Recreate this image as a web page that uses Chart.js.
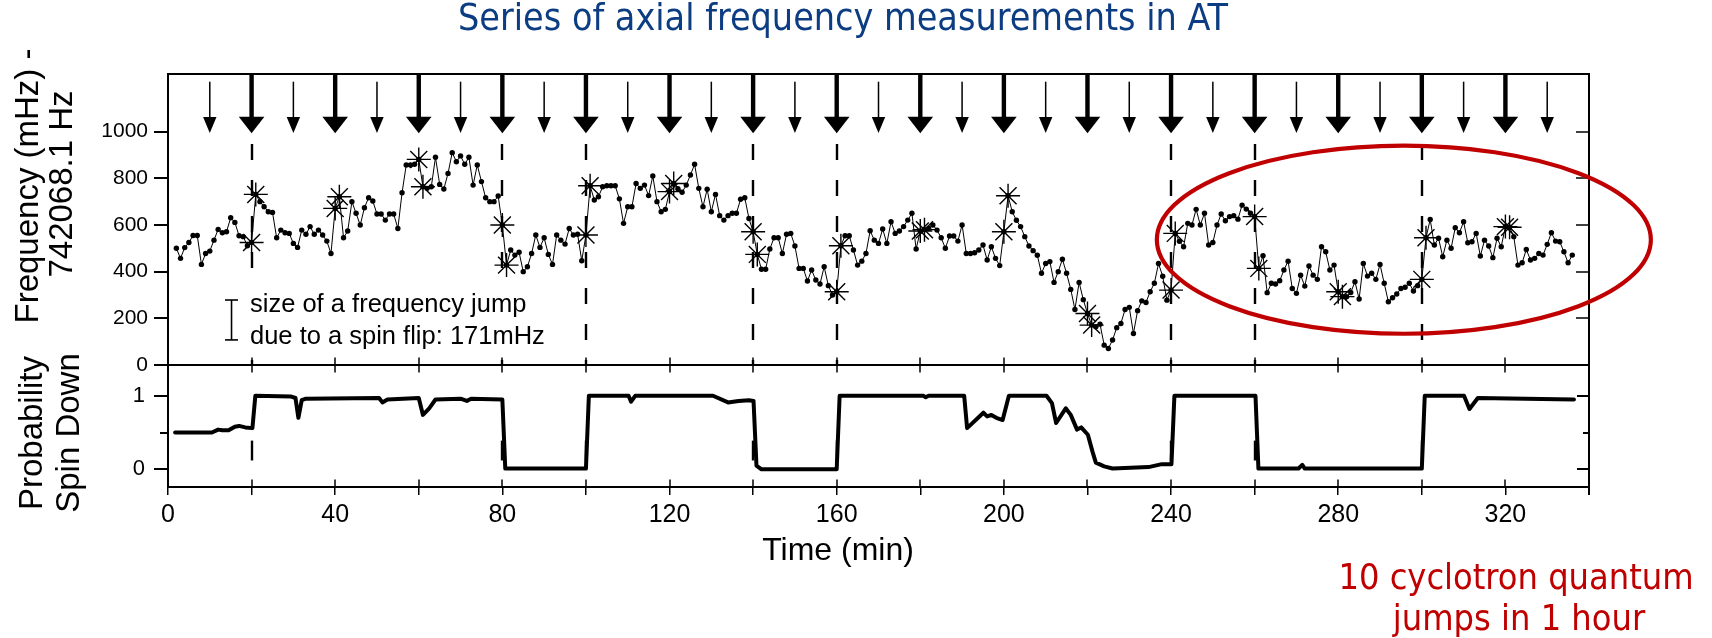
<!DOCTYPE html>
<html>
<head>
<meta charset="utf-8">
<title>Series of axial frequency measurements in AT</title>
<script src="https://cdn.jsdelivr.net/npm/chart.js@4.4.1/dist/chart.umd.min.js"></script>
<style>
  html, body { margin: 0; padding: 0; background: #ffffff; }
  #wrap { position: relative; width: 1712px; height: 638px; overflow: hidden; background: #ffffff; }
  #wrap canvas { position: absolute; left: 0; top: 0; }
</style>
</head>
<body>
<div id="wrap">
  <canvas id="freqCanvas" width="1712" height="638"></canvas>
  <canvas id="probCanvas" width="1712" height="638"></canvas>
</div>
<script>
// ---------------------------------------------------------------------------
// Data
// ---------------------------------------------------------------------------

// One axial frequency measurement per minute, starting at minute 2 (mHz offset from 742068.1 Hz)
const firstSampleMinute = 2;
const freqMilliHz = [
  500, 457, 503, 525, 555, 555, 431, 478, 488, 535,   // 2-11
  581, 567, 571, 631, 611, 554, 550, 511, 525, 731,   // 12-21
  700, 678, 657, 654, 545, 578, 567, 564, 521, 504,   // 22-31
  578, 560, 593, 560, 578, 557, 531, 478, 671, 721,   // 32-41
  545, 574, 700, 650, 600, 674, 717, 703, 647, 647,   // 42-51
  621, 647, 647, 585, 738, 857, 857, 860, 881, 764,   // 52-61
  757, 764, 890, 774, 754, 821, 910, 871, 896, 860,   // 62-71
  890, 771, 857, 786, 717, 700, 700, 724, 600, 428,   // 72-81
  493, 471, 483, 400, 421, 478, 557, 504, 545, 474,   // 82-91
  431, 557, 535, 518, 585, 557, 560, 447, 557, 768,   // 92-101
  707, 721, 764, 768, 768, 768, 712, 607, 678, 678,   // 102-111
  778, 757, 771, 726, 810, 700, 657, 667, 743, 778,   // 112-121
  755, 740, 771, 814, 860, 757, 678, 753, 657, 731,   // 122-131
  640, 621, 640, 650, 650, 710, 717, 628, 571, 474,   // 132-141
  410, 410, 497, 545, 545, 478, 560, 564, 510, 414,   // 142-151
  414, 360, 407, 364, 347, 421, 340, 300, 314, 511,   // 152-161
  554, 554, 493, 428, 445, 478, 575, 535, 521, 583,   // 162-171
  521, 614, 564, 574, 593, 621, 650, 497, 574, 580,   // 172-181
  585, 600, 578, 545, 500, 553, 553, 531, 600, 478,   // 182-191
  478, 481, 493, 514, 450, 507, 457, 426, 571, 725,   // 192-201
  657, 620, 593, 550, 510, 490, 470, 393, 435, 443,   // 202-211
  354, 400, 453, 393, 324, 238, 354, 280, 221, 171,   // 212-221
  164, 175,  85,  71, 107, 160, 178, 238, 247, 135,   // 222-231
  233, 275, 268, 314, 350, 435, 380, 278, 321, 564,   // 232-241
  530, 507, 607, 600, 667, 600, 650, 514, 525, 600,   // 242-251
  647, 618, 636, 640, 625, 685, 668, 650, 636, 414,   // 252-261
  468, 310, 350, 347, 361, 407, 445, 328, 307, 385,   // 262-271
  338, 424, 385, 367, 507, 485, 407, 428, 314, 293,   // 272-281
  293, 311, 357, 283, 435, 381, 393, 367, 431, 350,   // 282-291
  271, 288, 304, 328, 333, 350, 317, 340, 367, 545,   // 292-301
  624, 514, 543, 464, 535, 500, 588, 567, 614, 524,   // 302-311
  528, 564, 467, 535, 510, 460, 543, 507, 593, 590,   // 312-321
  550, 428, 438, 495, 450, 457, 478, 471, 517, 567,   // 322-331
  531, 528, 485, 438, 471                             // 332-336
];

// Measurements taken right before / after each spin-flip attempt (drawn as asterisks)
const flipMarkerMinutes = [20, 21, 40, 41, 60, 61, 80, 81, 100, 101, 120, 121, 140, 141, 160, 161,
                           180, 181, 200, 201, 220, 221, 240, 241, 260, 261, 280, 281, 300, 301, 320, 321];

// Cyclotron (thin) and spin-flip (thick) drive pulses
const thinArrowMinutes  = [10, 30, 50, 70, 90, 110, 130, 150, 170, 190, 210, 230, 250, 270, 290, 310, 330];
const thickArrowMinutes = [20, 40, 60, 80, 100, 120, 140, 160, 180, 200, 220, 240, 260, 280, 300, 320];

// Spin flips that actually happened (dashed markers)
const spinFlipMinutes = [20, 80, 100, 140, 160, 240, 260, 300];

// Probability of spin down, breakpoints of the analysed curve
const probMinutes = [
  1.7, 10.5, 12, 13, 14.5, 16, 17, 18.5, 20.2, 20.9,
  29.5, 30.5, 31.2, 32, 33, 50.5, 51.3, 52.5, 60, 61,
  62.5, 64, 70, 71.5, 72.5, 80.0, 80.7, 100.0, 100.7, 110.2,
  110.8, 111.8, 130.4, 134, 136.5, 139, 140.1, 140.8, 142, 160.0,
  160.7, 180.7, 181.3, 182, 190.5, 191.2, 195.1, 196, 197, 198.2,
  199.7, 201.2, 210.2, 211.5, 212.5, 214.8, 216, 217.5, 218.5, 220.1,
  221.2, 222, 224, 226, 234.6, 237.8, 240.1, 240.8, 260.2, 260.9,
  270.5, 271.4, 272, 300.0, 300.7, 310.1, 311.4, 313.4, 336.4
];
const probSpinDown = [
  0.50, 0.50, 0.54, 0.53, 0.53, 0.58, 0.59, 0.57, 0.56, 1.00,
  0.99, 0.97, 0.70, 0.94, 0.96, 0.97, 0.91, 0.95, 0.97, 0.74,
  0.83, 0.95, 0.96, 0.93, 0.96, 0.95, 0.01, 0.01, 1.00, 1.00,
  0.92, 1.00, 1.00, 0.91, 0.93, 0.94, 0.93, 0.05, 0.00, 0.00,
  1.00, 1.00, 0.98, 1.00, 1.00, 0.56, 0.77, 0.72, 0.74, 0.70,
  0.67, 1.00, 1.00, 0.90, 0.63, 0.83, 0.74, 0.54, 0.57, 0.47,
  0.24, 0.09, 0.04, 0.01, 0.03, 0.07, 0.07, 1.00, 1.00, 0.01,
  0.01, 0.06, 0.01, 0.01, 1.00, 1.00, 0.82, 0.97, 0.95
];

// Axis ticks
const freqTickValues = [0, 200, 400, 600, 800, 1000];
const probTickValues = [0, 0.5, 1];
const timeTickValues = [0, 20, 40, 60, 80, 100, 120, 140, 160, 180, 200, 220, 240, 260, 280, 300, 320, 340];

// Frequency jump caused by one spin flip (mHz)
const spinFlipJumpMilliHz = 171;

// ---------------------------------------------------------------------------
// Layout & style
// ---------------------------------------------------------------------------
const W = 1712, H = 638;
const PLOT_LEFT = 168, PLOT_RIGHT = 1589;
const TOP_PANEL_TOP = 74, PANEL_SPLIT = 365, BOTTOM_PANEL_BOTTOM = 487;
const X_AXIS_BOX = 60;

const FONT_SANS = '"Liberation Sans", Arial, Helvetica, sans-serif';
const FONT_SLIDE = '"DejaVu Sans Condensed", "DejaVu Sans", Verdana, sans-serif';
const TITLE_BLUE = '#0c3c82';
const NOTE_RED = '#c00000';
const INK = '#000000';

// Highlighted region (minutes / mHz)
const highlight = { minute: 295.7, milliHz: 537, halfMinutes: 59.1, halfMilliHz: 403 };

// ---------------------------------------------------------------------------
// Derived point lists
// ---------------------------------------------------------------------------
const freqPoints = freqMilliHz.map((v, i) => ({ x: firstSampleMinute + i, y: v }));
const starPoints = flipMarkerMinutes.map(m => ({ x: m, y: freqMilliHz[m - firstSampleMinute] }));
const probPoints = probMinutes.map((m, i) => ({ x: m, y: probSpinDown[i] }));

// ---------------------------------------------------------------------------
// Drawing helpers
// ---------------------------------------------------------------------------
function seg(ctx, x1, y1, x2, y2) {
  ctx.beginPath(); ctx.moveTo(x1, y1); ctx.lineTo(x2, y2); ctx.stroke();
}
function fitFontSize(ctx, text, family, targetWidth) {
  ctx.font = '100px ' + family;
  return 100 * targetWidth / ctx.measureText(text).width;
}
function drawArrow(ctx, px, yShaftTop, yHeadBase, yTip, shaftWidth, headHalfWidth) {
  ctx.fillRect(px - shaftWidth / 2, yShaftTop, shaftWidth, yHeadBase - yShaftTop + 1);
  ctx.beginPath();
  ctx.moveTo(px - headHalfWidth, yHeadBase);
  ctx.lineTo(px + headHalfWidth, yHeadBase);
  ctx.lineTo(px, yTip);
  ctx.closePath();
  ctx.fill();
}
function drawVerticalText(ctx, text, cx, cy) {
  ctx.save();
  ctx.translate(cx, cy);
  ctx.rotate(-Math.PI / 2);
  ctx.textAlign = 'center';
  ctx.textBaseline = 'middle';
  ctx.fillText(text, 0, 0);
  ctx.restore();
}

// ---------------------------------------------------------------------------
// Upper panel decorations: frame, pulses, flip markers, highlight, texts
// ---------------------------------------------------------------------------
const freqPanelDecor = {
  id: 'freqPanelDecor',
  beforeDatasetsDraw(chart) {
    const { ctx, scales: { x, y } } = chart;
    ctx.save();
    ctx.strokeStyle = INK;
    ctx.lineWidth = 2.4;
    ctx.setLineDash([16, 20]);
    const yTop = y.getPixelForValue(947), yBot = y.getPixelForValue(0);
    spinFlipMinutes.forEach(m => {
      const px = Math.round(x.getPixelForValue(m));
      seg(ctx, px, yTop, px, yBot);
    });
    ctx.restore();

    // the jump-size caption sits on an opaque label box
    ctx.save();
    ctx.fillStyle = '#ffffff';
    ctx.fillRect(246, 288, 306, 64);
    ctx.restore();
  },
  afterDraw(chart) {
    const { ctx, chartArea: { left: L, right: R, top: T, bottom: B }, scales: { x, y } } = chart;
    ctx.save();

    // frame
    ctx.strokeStyle = INK;
    ctx.lineWidth = 2;
    seg(ctx, L - 1, T, R + 1, T);
    seg(ctx, R, T, R, B);
    seg(ctx, L, B, R, B);

    // time ticks on the top border and on the panel divider
    ctx.lineWidth = 1.5;
    timeTickValues.forEach(m => {
      const px = Math.round(x.getPixelForValue(m));
      seg(ctx, px, T, px, T + 8);
      seg(ctx, px, B - 7.5, px, B + 7.5);
    });
    // inward ticks on the right axis
    freqTickValues.filter(v => v > 0).forEach(v => {
      const py = Math.round(y.getPixelForValue(v));
      seg(ctx, R - 13, py, R, py);
    });

    // drive pulses
    ctx.fillStyle = INK;
    thinArrowMinutes.forEach(m => {
      drawArrow(ctx, x.getPixelForValue(m), y.getPixelForValue(1214), y.getPixelForValue(1063),
                y.getPixelForValue(994), 1.5, 6.7);
    });
    thickArrowMinutes.forEach(m => {
      drawArrow(ctx, x.getPixelForValue(m), T, y.getPixelForValue(1064),
                y.getPixelForValue(993), 4.4, 12.8);
    });

    // size of one spin-flip jump
    const bx = x.getPixelForValue(15.2);
    const yA = y.getPixelForValue(193 + spinFlipJumpMilliHz / 2);
    const yB = y.getPixelForValue(193 - spinFlipJumpMilliHz / 2);
    ctx.lineWidth = 1.6;
    seg(ctx, bx, yA, bx, yB);
    seg(ctx, bx - 6.5, yA, bx + 6.5, yA);
    seg(ctx, bx - 6.5, yB, bx + 6.5, yB);
    ctx.fillStyle = INK;
    ctx.font = '25.5px ' + FONT_SANS;
    ctx.textAlign = 'left';
    ctx.textBaseline = 'middle';
    ctx.fillText('size of a frequency jump', 250, 305);
    ctx.fillText('due to a spin flip: ' + spinFlipJumpMilliHz + 'mHz', 250, 337);

    // highlighted region
    const cx = x.getPixelForValue(highlight.minute);
    const cy = y.getPixelForValue(highlight.milliHz);
    const rx = x.getPixelForValue(highlight.minute + highlight.halfMinutes) - cx;
    const ry = cy - y.getPixelForValue(highlight.milliHz + highlight.halfMilliHz);
    ctx.strokeStyle = NOTE_RED;
    ctx.lineWidth = 4.2;
    ctx.beginPath();
    ctx.ellipse(cx, cy, rx, ry, 0, 0, Math.PI * 2);
    ctx.stroke();

    // title
    const titleText = 'Series of axial frequency measurements in AT';
    const ts = fitFontSize(ctx, titleText, FONT_SLIDE, 770);
    ctx.font = ts.toFixed(1) + 'px ' + FONT_SLIDE;
    ctx.fillStyle = TITLE_BLUE;
    ctx.textAlign = 'center';
    ctx.textBaseline = 'alphabetic';
    ctx.fillText(titleText, 843, 30);

    // note
    const noteLines = ['10 cyclotron quantum', 'jumps in 1 hour'];
    const ns = fitFontSize(ctx, noteLines[0], FONT_SLIDE, 355);
    ctx.font = ns.toFixed(1) + 'px ' + FONT_SLIDE;
    ctx.fillStyle = NOTE_RED;
    ctx.fillText(noteLines[0], 1516, 589);
    ctx.fillText(noteLines[1], 1519, 630);

    // axis titles
    ctx.fillStyle = INK;
    ctx.font = '33px ' + FONT_SANS;
    drawVerticalText(ctx, 'Frequency (mHz) -', 29, 186);
    drawVerticalText(ctx, '742068.1 Hz', 63, 184);
    drawVerticalText(ctx, 'Probability', 33, 433);
    drawVerticalText(ctx, 'Spin Down', 70, 433);
    ctx.font = '32px ' + FONT_SANS;
    ctx.textAlign = 'center';
    ctx.textBaseline = 'middle';
    ctx.fillText('Time (min)', 838, 551);

    ctx.restore();
  }
};

// ---------------------------------------------------------------------------
// Lower panel decorations
// ---------------------------------------------------------------------------
const probPanelDecor = {
  id: 'probPanelDecor',
  beforeDatasetsDraw(chart) {
    const { ctx, scales: { x, y } } = chart;
    ctx.save();
    ctx.strokeStyle = INK;
    ctx.lineWidth = 2.4;
    const yTop = y.getPixelForValue(0.39), yBot = y.getPixelForValue(0.12);
    spinFlipMinutes.forEach(m => {
      const px = Math.round(x.getPixelForValue(m));
      seg(ctx, px, yTop, px, yBot);
    });
    ctx.restore();
  },
  afterDraw(chart) {
    const { ctx, chartArea: { left: L, right: R, top: T, bottom: B }, scales: { x, y } } = chart;
    ctx.save();
    ctx.strokeStyle = INK;
    ctx.lineWidth = 2;
    seg(ctx, R, T, R, B + 8);
    ctx.lineWidth = 1.5;
    timeTickValues.forEach(m => {
      const px = Math.round(x.getPixelForValue(m));
      seg(ctx, px, B - 7.5, px, B);
    });
    ctx.lineWidth = 2;
    const yHalf = Math.round(y.getPixelForValue(0.5));
    seg(ctx, L - 8, yHalf, L, yHalf);
    probTickValues.forEach(v => {
      const py = Math.round(y.getPixelForValue(v));
      seg(ctx, R - (v === 0.5 ? 6 : 12), py, R, py);
    });
    ctx.restore();
  }
};

// ---------------------------------------------------------------------------
// Charts
// ---------------------------------------------------------------------------
const freqChart = new Chart(document.getElementById('freqCanvas'), {
  type: 'line',
  data: {
    datasets: [
      {
        type: 'scatter',
        label: 'spin-flip attempt',
        data: starPoints,
        showLine: false,
        pointStyle: 'star',
        pointRadius: 12,
        pointHoverRadius: 12,
        pointBorderWidth: 1.4,
        pointBorderColor: INK,
        borderColor: INK,
        backgroundColor: INK,
        order: 0
      },
      {
        label: 'axial frequency',
        data: freqPoints,
        borderColor: INK,
        borderWidth: 1,
        tension: 0,
        pointRadius: 2.7,
        pointHoverRadius: 2.7,
        pointBorderWidth: 0,
        pointBackgroundColor: INK,
        order: 1
      }
    ]
  },
  options: {
    responsive: false,
    animation: false,
    devicePixelRatio: 1,
    events: [],
    layout: { padding: { left: 0, top: TOP_PANEL_TOP, right: W - PLOT_RIGHT, bottom: H - PANEL_SPLIT } },
    plugins: { legend: { display: false }, tooltip: { enabled: false }, title: { display: false } },
    scales: {
      x: { type: 'linear', min: 0, max: 340, display: false },
      y: {
        type: 'linear', min: 0, max: 1247,
        afterFit: s => { s.width = PLOT_LEFT; },
        afterBuildTicks: s => { s.ticks = freqTickValues.map(v => ({ value: v })); },
        ticks: {
          color: INK, font: { family: FONT_SANS, size: 21 }, padding: 6, autoSkip: false,
          callback: v => String(v)
        },
        grid: { drawOnChartArea: false, drawTicks: true, tickLength: 14, color: INK, lineWidth: 2 },
        border: { display: true, color: INK, width: 2 }
      }
    }
  },
  plugins: [freqPanelDecor]
});

const probChart = new Chart(document.getElementById('probCanvas'), {
  type: 'line',
  data: {
    datasets: [{
      label: 'probability spin down',
      data: probPoints,
      borderColor: INK,
      borderWidth: 4,
      tension: 0,
      pointRadius: 0,
      borderJoinStyle: 'round',
      borderCapStyle: 'round'
    }]
  },
  options: {
    responsive: false,
    animation: false,
    devicePixelRatio: 1,
    events: [],
    layout: { padding: { left: 0, top: PANEL_SPLIT, right: W - PLOT_RIGHT, bottom: H - BOTTOM_PANEL_BOTTOM - X_AXIS_BOX } },
    plugins: { legend: { display: false }, tooltip: { enabled: false }, title: { display: false } },
    scales: {
      x: {
        type: 'linear', min: 0, max: 340,
        afterFit: s => { s.height = X_AXIS_BOX; },
        afterBuildTicks: s => { s.ticks = timeTickValues.map(v => ({ value: v })); },
        ticks: {
          color: INK, font: { family: FONT_SANS, size: 25 }, padding: 5, autoSkip: false, maxRotation: 0,
          callback: v => (v % 40 === 0 && v < 340 ? String(v) : '')
        },
        grid: { drawOnChartArea: false, drawTicks: true, tickLength: 8, color: INK, lineWidth: 1.5 },
        border: { display: true, color: INK, width: 2 }
      },
      y: {
        type: 'linear', min: -0.241, max: 1.419,
        afterFit: s => { s.width = PLOT_LEFT; },
        afterBuildTicks: s => { s.ticks = probTickValues.map(v => ({ value: v })); },
        ticks: {
          color: INK, font: { family: FONT_SANS, size: 22 }, padding: 9, autoSkip: false,
          callback: v => (v === 0.5 ? '' : String(v))
        },
        grid: {
          drawOnChartArea: false, drawTicks: true, tickLength: 14, color: INK, lineWidth: 2,
          tickColor: c => (c.tick && c.tick.value === 0.5 ? 'rgba(0,0,0,0)' : INK)
        },
        border: { display: true, color: INK, width: 2 }
      }
    }
  },
  plugins: [probPanelDecor]
});
</script>
</body>
</html>
